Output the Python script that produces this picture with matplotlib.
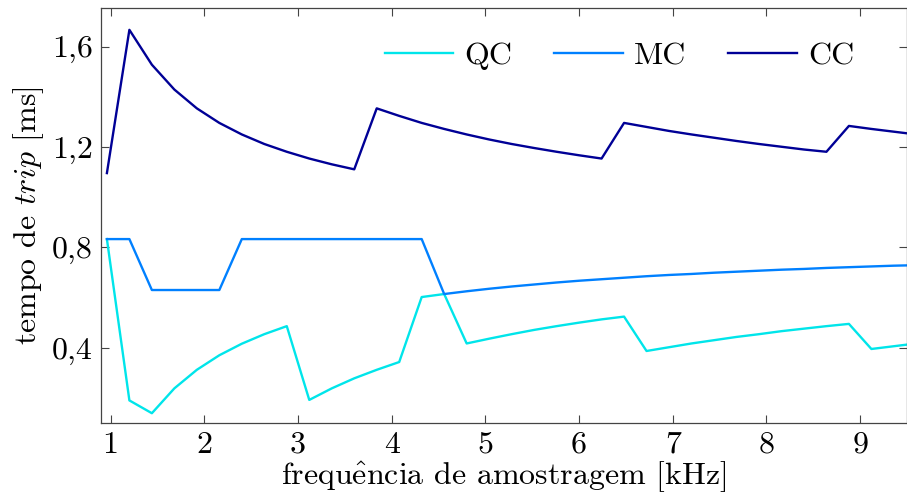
import matplotlib
matplotlib.use('Agg')
import matplotlib.pyplot as plt

#-----------------------------------------------
#data
#-----------------------------------------------
freq = [0.96, 1.20, 1.44, 1.68, 1.92, 2.16, 2.40, 2.64, 2.88, 3.12, 3.36, 3.60,
        3.84, 4.08, 4.32, 4.56, 4.80, 5.04, 5.28, 5.52, 5.76, 6.00, 6.24, 6.48,
        6.72, 6.96, 7.20, 7.44, 7.68, 7.92, 8.16, 8.40, 8.64, 8.88, 9.12, 9.36, 9.60]

qc = [0.833, 0.190, 0.139, 0.238, 0.312, 0.370, 0.416, 0.454, 0.486, 0.192, 0.238, 0.278,
      0.312, 0.343, 0.602, 0.614, 0.417, 0.436, 0.454, 0.471, 0.486, 0.500, 0.513, 0.524,
      0.387, 0.402, 0.417, 0.430, 0.443, 0.454, 0.466, 0.476, 0.486, 0.495, 0.395, 0.406, 0.417]

mc = [0.833, 0.833, 0.630, 0.630, 0.630, 0.630, 0.833, 0.833, 0.833, 0.833, 0.833, 0.833,
      0.833, 0.833, 0.833, 0.614, 0.625, 0.635, 0.644, 0.652, 0.660, 0.667, 0.673, 0.679,
      0.685, 0.690, 0.694, 0.699, 0.703, 0.707, 0.711, 0.714, 0.718, 0.721, 0.724, 0.727, 0.729]

cc = [1.096, 1.667, 1.528, 1.429, 1.354, 1.296, 1.250, 1.212, 1.181, 1.154, 1.131, 1.111,
      1.354, 1.324, 1.296, 1.272, 1.250, 1.230, 1.212, 1.196, 1.181, 1.167, 1.154, 1.296,
      1.280, 1.264, 1.250, 1.237, 1.224, 1.212, 1.201, 1.190, 1.181, 1.284, 1.272, 1.261, 1.250]

labels = ['QC', 'MC', 'CC']
colors = ['#00e5ea', '#0080ff', '#000096']

yticks = [0.4, 0.8, 1.2, 1.6]
ytick_labels = ['0,4', '0,8', '1,2', '1,6']
xticks = [1, 2, 3, 4, 5, 6, 7, 8, 9]

#-----------------------------------------------
#style: latex-like serif
#-----------------------------------------------
plt.rcParams['font.family'] = 'cmr10'
plt.rcParams['mathtext.fontset'] = 'cm'
plt.rcParams['axes.unicode_minus'] = False
plt.rcParams['font.size'] = 23

fig = plt.figure(figsize=(9.07, 4.95), dpi=100)
ax = fig.add_axes([101/907, 1 - 423/495, 1 - 101/907, (423 - 8)/495])

for series, name, c in zip([qc, mc, cc], labels, colors):
    ax.plot(freq, series, color=c, lw=1.7, label=name)

ax.set_xlim(0.897, 9.5)
ax.set_ylim(0.1, 1.754)
ax.set_xticks(xticks)
ax.set_xticklabels([str(t) for t in xticks])
ax.set_yticks(yticks)
ax.set_yticklabels(ytick_labels)
ax.tick_params(direction='in', top=True, right=True, length=6, width=0.8,
               color='#444444', labelsize=23, pad=6)
for sp in ax.spines.values():
    sp.set_color('#444444')
    sp.set_linewidth(0.9)

ax.set_xlabel('frequ$\\hat{\\mathrm{e}}$ncia de amostragem [kHz]', fontsize=23, labelpad=0)
ax.set_ylabel('tempo de $trip$ [ms]', fontsize=23, labelpad=4)

ax.legend(loc='upper right', ncol=3, frameon=False, fontsize=23,
          handlelength=2.15, handletextpad=0.35, columnspacing=1.3,
          bbox_to_anchor=(0.97, 0.988))

fig.savefig('out.png', dpi=100)
